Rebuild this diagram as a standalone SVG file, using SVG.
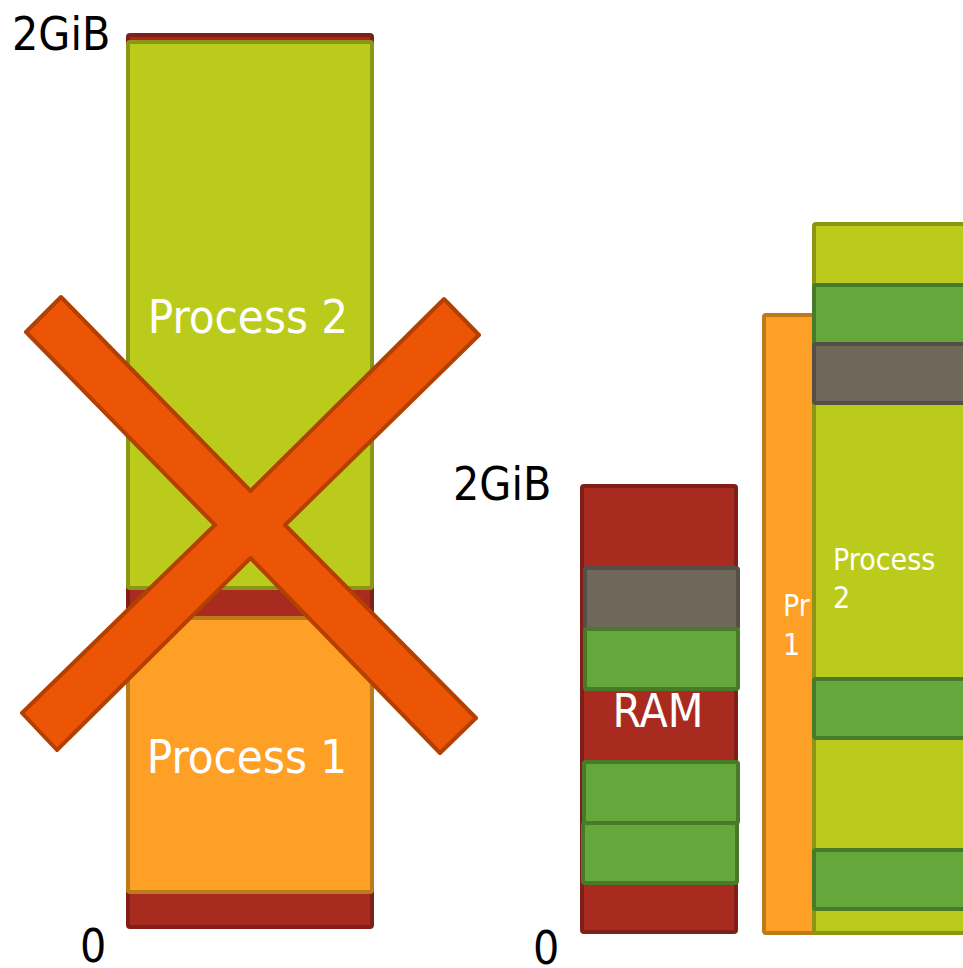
<svg xmlns="http://www.w3.org/2000/svg" width="963" height="968" viewBox="0 0 963 968">
  <style>
    .ram { fill: #a92b1f; stroke: #7f1f17; stroke-width: 4; }
    .p1 { fill: #fda025; stroke: #bc7a1c; stroke-width: 4; }
    .p2 { fill: #bbcb1b; stroke: #8a9614; stroke-width: 4; }
    .page { fill: #64a83c; stroke: #477b2a; stroke-width: 4; }
    .swap { fill: #6f675a; stroke: #554f48; stroke-width: 4; }
    .cross { fill: #eb5505; stroke: #b34000; stroke-width: 4; stroke-linejoin: round; }
    .lbl { font-family: "DejaVu Sans Condensed", "DejaVu Sans", "Liberation Sans", sans-serif; font-stretch: condensed; }
    .axis { fill: #000000; font-size: 46px; }
    .in { fill: #ffffff; }
  </style>

  <!-- Left: contiguous 2GiB address space -->
  <g id="left-space">
    <rect class="ram" x="128" y="35" width="244" height="892" rx="2"/>
  </g>
  <g id="left-process2">
    <rect class="p2" x="128" y="42" width="244" height="546" rx="2"/>
    <text class="lbl in" x="248" y="333" font-size="47" text-anchor="middle">Process 2</text>
  </g>
  <g id="left-process1">
    <rect class="p1" x="128" y="618" width="244" height="274" rx="2"/>
    <text class="lbl in" x="247" y="773" font-size="47" text-anchor="middle">Process 1</text>
  </g>
  <g id="left-labels">
    <text class="lbl axis" x="12" y="50">2GiB</text>
    <text class="lbl axis" x="80" y="962">0</text>
  </g>
  <!-- The big cross drawn as one outlined shape -->
  <g id="cross">
    <polygon class="cross" points="26,332 61,297 250.5,491 444,299 479,335 285,525 476,718 440,753 250.5,558 57,750 22,713 215,525"/>
  </g>

  <!-- Right: physical RAM with pages -->
  <g id="ram">
    <rect class="ram" x="582" y="486" width="154" height="446" rx="2"/>
    <rect class="swap" x="585" y="568" width="153" height="61" rx="2"/>
    <rect class="page" x="585" y="629" width="153" height="60" rx="2"/>
    <text class="lbl in" x="658" y="727" font-size="46" text-anchor="middle">RAM</text>
    <rect class="page" x="584" y="762" width="154" height="61" rx="2"/>
    <rect class="page" x="583" y="823" width="154" height="60" rx="2"/>
  </g>
  <g id="right-labels">
    <text class="lbl axis" x="453" y="500">2GiB</text>
    <text class="lbl axis" x="533" y="964">0</text>
  </g>

  <!-- Right: virtual address spaces -->
  <g id="right-process1">
    <rect class="p1" x="764" y="315" width="150" height="618" rx="2"/>
    <text class="lbl in" x="783" y="616" font-size="30">Pr</text>
    <text class="lbl in" x="783" y="655" font-size="30">1</text>
  </g>
  <g id="right-process2">
    <rect class="p2" x="814" y="224" width="160" height="709" rx="2"/>
    <rect class="page" x="814" y="285" width="160" height="59" rx="2"/>
    <rect class="swap" x="814" y="344" width="160" height="59" rx="2"/>
    <text class="lbl in" x="833" y="570" font-size="30">Process</text>
    <text class="lbl in" x="833" y="608" font-size="30">2</text>
    <rect class="page" x="814" y="679" width="160" height="59" rx="2"/>
    <rect class="page" x="814" y="850" width="160" height="59" rx="2"/>
  </g>
</svg>
